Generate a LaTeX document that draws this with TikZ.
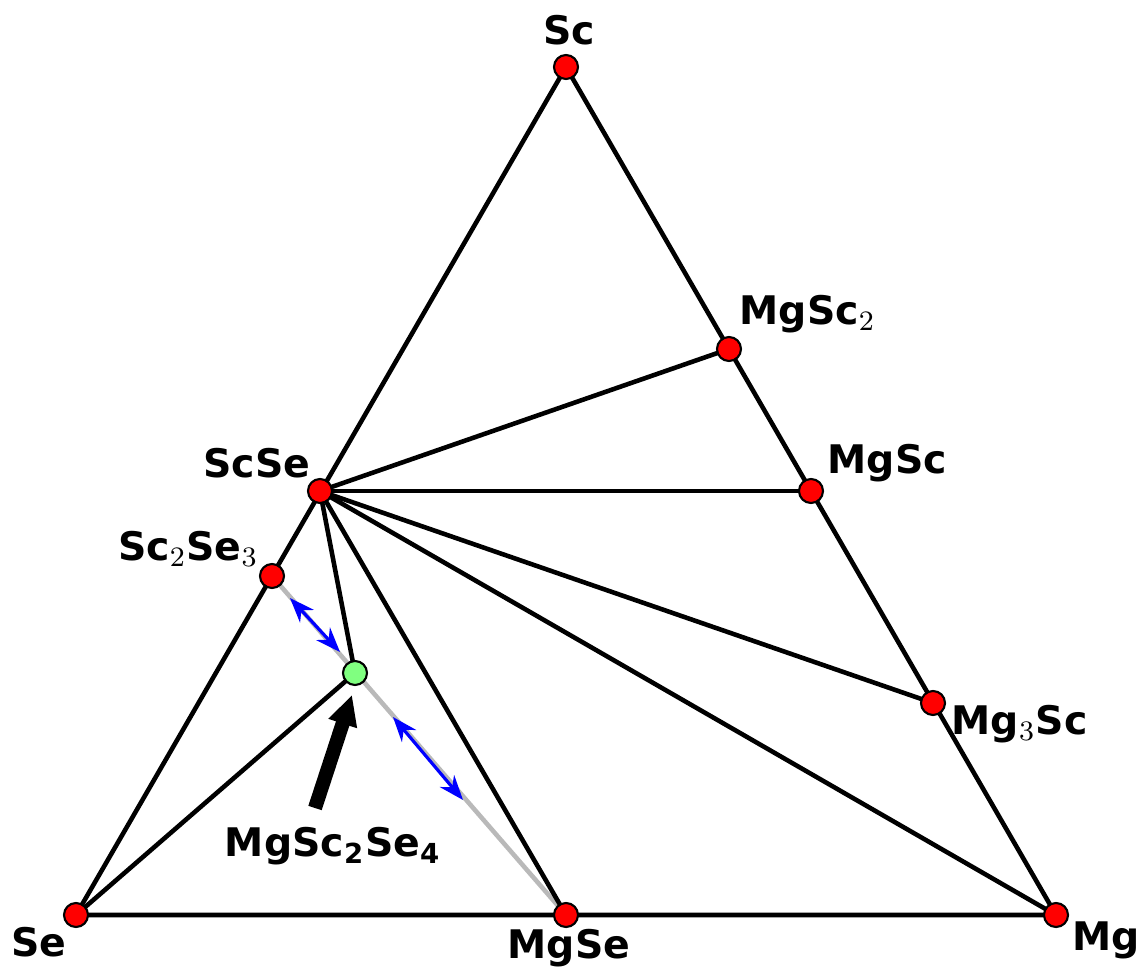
\documentclass[tikz,border=0pt]{standalone}
\usepackage{fontspec}
\setmainfont{DejaVu Sans}
\usepackage{tikz}
\usetikzlibrary{arrows.meta}
\definecolor{phase}{RGB}{255,0,0}
\definecolor{newphase}{RGB}{128,255,128}

\begin{document}
\begin{tikzpicture}[x=0.01cm, y=-0.01cm, >=Stealth]
  \tikzset{
    pt/.style={circle, draw=black, line width=0.6pt, fill=phase, minimum size=0.24cm, inner sep=0pt},
    ptnew/.style={pt, fill=newphase},
    tie/.style={line width=1.3pt, black},
    lbl/.style={font=\bfseries\fontsize{11.2}{13}\selectfont, inner sep=0pt}
  }
  \useasboundingbox (0,0) rectangle (1143,970);

  % corners and phases
  \coordinate (Sc) at (566,67);
  \coordinate (Se) at (76,915);
  \coordinate (Mg) at (1056,915);
  \coordinate (MgSe) at (566,915);
  \coordinate (MgSc2) at (729,349);
  \coordinate (MgSc) at (811,491);
  \coordinate (Mg3Sc) at (933,703);
  \coordinate (ScSe) at (320,491);
  \coordinate (Sc2Se3) at (272,576);
  \coordinate (MgScSe) at (355,673);

  % decomposition line
  \draw[line width=1.3pt, gray!55] (Sc2Se3) -- (MgSe);

  % tie lines
  \draw[tie] (Sc) -- (Se) -- (Mg) -- cycle;
  \draw[tie] (ScSe) -- (MgSc2);
  \draw[tie] (ScSe) -- (MgSc);
  \draw[tie] (ScSe) -- (Mg3Sc);
  \draw[tie] (ScSe) -- (Mg);
  \draw[tie] (ScSe) -- (MgSe);
  \draw[tie] (ScSe) -- (MgScSe);
  \draw[tie] (Se) -- (MgScSe);

  % distances to the hull
  \draw[<->, blue, line width=0.9pt] (290,598) -- (340,652);
  \draw[<->, blue, line width=0.9pt] (393,717) -- (463,800);

  % pointer
  \coordinate (tail) at (315,808);
  \draw[->, line width=4pt, >={Triangle[length=0.3cm, width=0.28cm]}] (tail) -- (352,695);

  \node[pt] (nSc) at (Sc) {};
  \node[pt] (nSe) at (Se) {};
  \node[pt] (nMg) at (Mg) {};
  \node[pt] (nMgSe) at (MgSe) {};
  \node[pt] (nMgSc2) at (MgSc2) {};
  \node[pt] (nMgSc) at (MgSc) {};
  \node[pt] (nMg3Sc) at (Mg3Sc) {};
  \node[pt] (nScSe) at (ScSe) {};
  \node[pt] (nSc2Se3) at (Sc2Se3) {};
  \node[ptnew] (nMgScSe) at (MgScSe) {};

  \node[lbl] at (569,30) {Sc};
  \node[lbl, anchor=west] at (739,314) {MgSc$_2$};
  \node[lbl, anchor=west] at (827,463) {MgSc};
  \node[lbl, anchor=east] at (311,463) {ScSe};
  \node[lbl, anchor=east] at (259,549) {Sc$_2$Se$_3$};
  \node[lbl, anchor=west] at (951,724) {Mg$_3$Sc};
  \node[lbl, anchor=east] at (67,942) {Se};
  \node[lbl] at (569,948) {MgSe};
  \node[lbl, anchor=west] at (1072,940) {Mg};
  \node[lbl] at (333,846) {MgSc\textsubscript{2}Se\textsubscript{4}};
\end{tikzpicture}
\end{document}
